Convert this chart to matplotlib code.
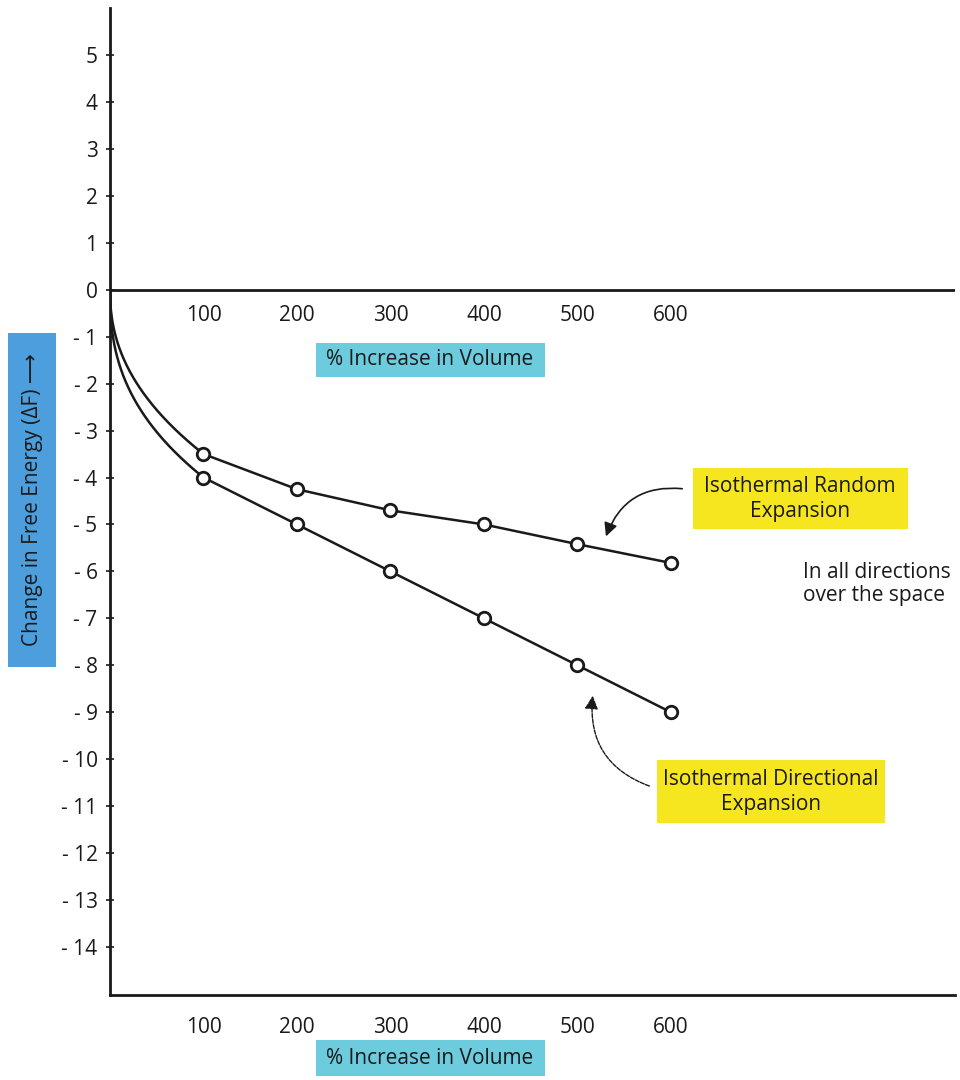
import numpy as np
import matplotlib
matplotlib.use("Agg")
import matplotlib.pyplot as plt
from matplotlib.patches import FancyArrowPatch, Rectangle

plt.rcParams['font.family'] = ['Open Sans', 'DejaVu Sans']

# ---- data ----
volume_pct = [0, 100, 200, 300, 400, 500, 600]
random_dF = [0, -3.5, -4.25, -4.7, -5.0, -5.42, -5.82]
directional_dF = [0, -4.0, -5.0, -6.0, -7.0, -8.0, -9.0]
y_ticks = list(range(5, -15, -1))
x_tick_labels = ["100", "200", "300", "400", "500", "600"]
x_ticks = [100, 200, 300, 400, 500, 600]

W, H = 960, 1080
FS = 15
INK = '#1a1a1a'
fig = plt.figure(figsize=(W / 100, H / 100), dpi=100)

def fx(x):
    return x / W

def fy(y):
    return 1 - y / H

ax = fig.add_axes([fx(110), fy(995), fx(955) - fx(110), fy(8) - fy(995)])
ax.set_xlim(0, (955 - 109) / 0.936)
ax.set_ylim(-(995 - 289.7) / 46.95, (289.7 - 8) / 46.95)

for s in ['top', 'right']:
    ax.spines[s].set_visible(False)
for s in ['left', 'bottom']:
    ax.spines[s].set_linewidth(2)
    ax.spines[s].set_color(INK)

ax.axhline(0, color=INK, lw=2)

ax.set_yticks(y_ticks)
ax.set_yticklabels([str(v) if v >= 0 else "- " + str(-v) for v in y_ticks], fontsize=FS)
ax.tick_params(axis='y', direction='inout', length=6, width=1.2, pad=6, colors=INK)
ax.set_xticks(x_ticks)
ax.set_xticklabels(x_tick_labels, fontsize=FS)
ax.tick_params(axis='x', length=0, pad=16, colors=INK)

# top x labels under the zero line
for xv, lab in zip(x_ticks, x_tick_labels):
    ax.text(xv, -0.55, lab, ha='center', va='center', fontsize=FS, color=INK)

def draw_series(xs, ys, p):
    # smooth rise from origin to first point, then straight segments
    t = np.linspace(0, 1, 200)
    cx = xs[0] + (xs[1] - xs[0]) * t
    cy = ys[0] + (ys[1] - ys[0]) * t ** p
    ax.plot(cx, cy, color=INK, lw=1.8)
    ax.plot(xs[1:], ys[1:], color=INK, lw=1.8)
    ax.plot(xs[1:], ys[1:], 'o', ms=9, mfc='white', mec=INK, mew=2, zorder=5)

draw_series(volume_pct, random_dF, 0.45)
draw_series(volume_pct, directional_dF, 0.4)

blue = '#4c9fdc'
cyan = '#6ccbdc'
yellow = '#f5e620'

def box(x0, y0, x1, y1, color):
    fig.patches.append(Rectangle((fx(x0), fy(y1)), fx(x1) - fx(x0), fy(y0) - fy(y1),
                                 transform=fig.transFigure, fc=color, ec='none', zorder=0))

box(8, 333, 56, 667, blue)
fig.text(fx(33), fy(500), "Change in Free Energy (ΔF) ⟶", rotation=90, ha='center', va='center',
         fontsize=FS, color=INK)

for (y0, y1) in ((343, 377), (1040, 1076)):
    box(316, y0, 545, y1, cyan)
    fig.text(fx(430), fy((y0 + y1) / 2), "% Increase in Volume", ha='center', va='center',
             fontsize=FS, color=INK)

box(693, 468, 908, 529, yellow)
fig.text(fx(800), fy(499), "Isothermal Random\nExpansion", ha='center', va='center', fontsize=FS,
         linespacing=1.22, color=INK)
box(657, 760, 885, 823, yellow)
fig.text(fx(771), fy(792), "Isothermal Directional\nExpansion", ha='center', va='center', fontsize=FS,
         linespacing=1.22, color=INK)
fig.text(fx(803), fy(584), "In all directions\nover the space", ha='left', va='center', fontsize=FS,
         linespacing=1.15, color=INK)

a1 = FancyArrowPatch((fx(685), fy(489)), (fx(605), fy(539)), transform=fig.transFigure,
                     connectionstyle="arc3,rad=0.4", arrowstyle='-|>,head_length=8,head_width=4',
                     color=INK, lw=1.2)
fig.patches.append(a1)
a2 = FancyArrowPatch((fx(652), fy(787)), (fx(593), fy(693)), transform=fig.transFigure,
                     connectionstyle="arc3,rad=-0.4", arrowstyle='-|>,head_length=8,head_width=4',
                     color=INK, lw=1.0, linestyle=(0, (3, 1)))
fig.patches.append(a2)

fig.savefig("out.png", dpi=100)
